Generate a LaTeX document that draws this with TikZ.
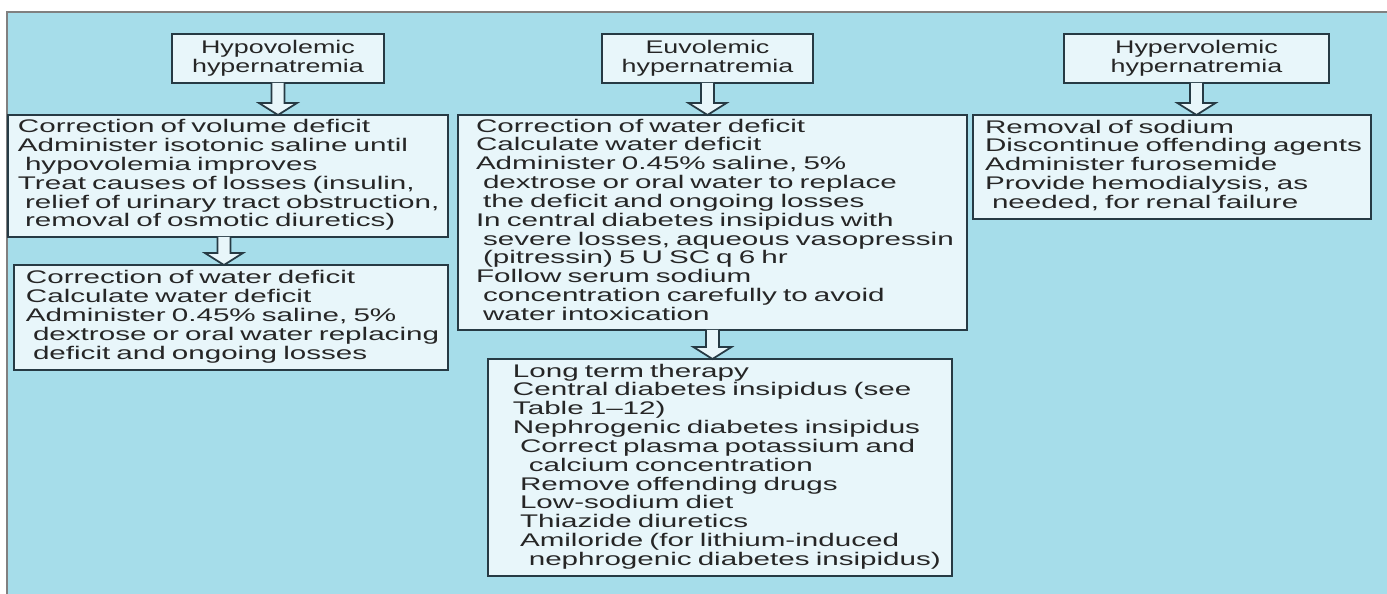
\documentclass[tikz,border=0pt]{standalone}
\usepackage{fontspec}
\setmainfont[FakeStretch=1.62]{Liberation Sans}
\newfontfamily\titlefont[FakeStretch=1.47]{Liberation Sans}
\usetikzlibrary{calc}
\definecolor{bgblue}{RGB}{166,221,234}
\definecolor{boxfill}{RGB}{232,246,250}
\definecolor{boxline}{RGB}{38,58,68}
\definecolor{framegray}{RGB}{128,128,128}
\setlength{\parindent}{0pt}
\newcommand{\boxlines}[1]{\begin{tabular}{@{}l@{}}#1\end{tabular}}
\newcommand{\inda}{\hspace*{4pt}}
\newcommand{\indb}{\hspace*{9pt}}

\begin{document}
\begin{tikzpicture}[x=0.02cm, y=-0.02cm,
    box/.style={draw=boxline, line width=1pt, fill=boxfill, text=black!85, anchor=north west,
      outer sep=0pt, inner ysep=0pt, align=left, font=\fontsize{10.4pt}{10.65pt}\selectfont},
    title/.style={box, align=center, inner xsep=0pt, font=\titlefont\fontsize{10.4pt}{10.65pt}\selectfont},
    fatarrow/.style={draw=boxline, line width=1pt, fill=boxfill,
      to path={let \p1=(\tikztostart), \p2=(\tikztotarget) in
        (\x1-3.7pt,\y1) -- (\x1-3.7pt,\y2+6.8pt) -- (\x1-10.8pt,\y2+6.8pt) -- (\x1,\y2)
        -- (\x1+10.8pt,\y2+6.8pt) -- (\x1+3.7pt,\y2+6.8pt) -- (\x1+3.7pt,\y1)}}]
        \useasboundingbox (0,0) rectangle (1387,594);
        \fill[white] (0,0) rectangle (1387,594);
        \fill[bgblue] (7,12) rectangle (1387,594);
        \draw[framegray, line width=1.2pt] (7,594) -- (7,12) -- (1387,12);
        % hypovolemic
        \node[title, text width=4.24cm, minimum height=0.98cm] (hypo) at (172,34) {Hypovolemic\\hypernatremia};
        \node[box, text width=8.4cm, inner xsep=0.2cm, minimum height=2.44cm] (hypo1) at (8,115) {\boxlines{
          Correction of volume deficit\\
          Administer isotonic saline until\\
          \inda hypovolemia improves\\
          Treat causes of losses (insulin,\\
          \inda relief of urinary tract obstruction,\\
          \inda removal of osmotic diuretics)}};
        \node[box, text width=8.2cm, inner xsep=0.24cm, minimum height=2.1cm] (hypo2) at (14,265) {\boxlines{
          Correction of water deficit\\
          Calculate water deficit\\
          Administer 0.45\% saline, 5\%\\
          \inda dextrose or oral water replacing\\
          \inda deficit and ongoing losses}};
        % euvolemic
        \node[title, text width=4.22cm, minimum height=0.98cm] (eu) at (602,34) {Euvolemic\\hypernatremia};
        \node[box, text width=9.46cm, inner xsep=0.36cm, minimum height=4.3cm] (eu1) at (458,115) {\boxlines{
          Correction of water deficit\\
          Calculate water deficit\\
          Administer 0.45\% saline, 5\%\\
          \inda dextrose or oral water to replace\\
          \inda the deficit and ongoing losses\\
          In central diabetes insipidus with\\
          \inda severe losses, aqueous vasopressin\\
          \inda (pitressin) 5 U SC q 6 hr\\
          Follow serum sodium\\
          \inda concentration carefully to avoid\\
          \inda water intoxication}};
        \node[box, text width=8.28cm, inner xsep=0.5cm, minimum height=4.34cm] (eu2) at (488,359) {\boxlines{
          Long term therapy\\
          Central diabetes insipidus (see\\
          Table 1–12)\\
          Nephrogenic diabetes insipidus\\
          \inda Correct plasma potassium and\\
          \indb calcium concentration\\
          \inda Remove offending drugs\\
          \inda Low-sodium diet\\
          \inda Thiazide diuretics\\
          \inda Amiloride (for lithium-induced\\
          \indb nephrogenic diabetes insipidus)}};
        % hypervolemic
        \node[title, text width=5.3cm, minimum height=0.98cm] (hyper) at (1064,34) {Hypervolemic\\hypernatremia};
        \node[box, text width=7.48cm, inner xsep=0.24cm, minimum height=2.08cm] (hyper1) at (973,115) {\boxlines{
          Removal of sodium\\
          Discontinue offending agents\\
          Administer furosemide\\
          Provide hemodialysis, as\\
          \inda needed, for renal failure}};
        % arrows
        \draw[fatarrow] (hypo.south) to (hypo1.north);
        \draw[fatarrow] ([xshift=-0.08cm]hypo1.south) to (hypo2.north);
        \draw[fatarrow] (eu.south) to (eu1.north);
        \draw[fatarrow] (eu1.south) to (eu2.north);
        \draw[fatarrow] (hyper.south) to (hyper1.north);
\end{tikzpicture}
\end{document}
